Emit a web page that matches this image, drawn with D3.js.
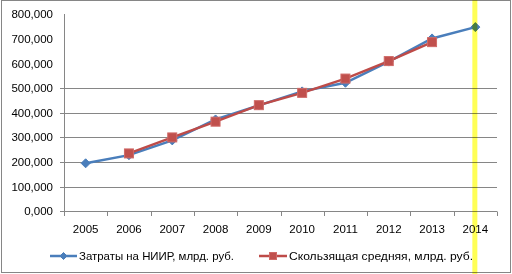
<!DOCTYPE html>
<html><head><meta charset="utf-8">
<script src="https://cdn.jsdelivr.net/npm/d3@7"></script>
<style>body{margin:0;background:#fff}svg{display:block}</style>
</head><body>
<script>
const years = ["2005","2006","2007","2008","2009","2010","2011","2012","2013","2014"];
const costs = [195, 228, 288, 373, 430, 487, 522, 608, 702, 748];
const movingAvgYears = ["2006","2007","2008","2009","2010","2011","2012","2013"];
const movingAvg = [235, 300, 364, 431, 481, 539, 610, 687];
const yTickValues = [0,100,200,300,400,500,600,700,800];
const gridValues = [100,200,300,400,500];
const seriesNames = ["Затраты на НИИР, млрд. руб.", "Скользящая средняя, млрд. руб."];
const highlightYear = "2014";

const W = 512, H = 274;
const svg = d3.select("body").append("svg").attr("width", W).attr("height", H);
const font = "Liberation Sans, Arial, sans-serif";

svg.append("rect").attr("x",1.5).attr("y",0.5).attr("width",509).attr("height",272)
  .attr("fill","#fff").attr("stroke","#868686").attr("stroke-width",1);

const x = d3.scaleBand().domain(years).range([64, 497]).padding(0);
const y = d3.scaleLinear().domain([0, 800]).range([211.3, 14.3]);
const cx = d => x(d) + x.bandwidth()/2;
const fmt = d3.formatLocale({decimal:",", thousands:" ", grouping:[3], currency:["",""]}).format(".3f");

const gridColor = "#868686";
svg.append("g").selectAll("line").data(gridValues).join("line")
  .attr("x1",64).attr("x2",497)
  .attr("y1",d=>Math.round(y(d))+0.5).attr("y2",d=>Math.round(y(d))+0.5)
  .attr("stroke",gridColor).attr("stroke-width",1);

svg.append("line").attr("x1",64.5).attr("x2",64.5).attr("y1",Math.round(y(800))).attr("y2",Math.round(y(0))+0.5)
  .attr("stroke",gridColor);
svg.append("g").selectAll("line").data(gridValues.concat([0])).join("line")
  .attr("x1",60).attr("x2",64.5)
  .attr("y1",d=>Math.round(y(d))+0.5).attr("y2",d=>Math.round(y(d))+0.5)
  .attr("stroke",gridColor);
svg.append("g").selectAll("text").data(yTickValues).join("text")
  .attr("x",53).attr("y",d=>y(d)).attr("dy","0.35em")
  .attr("text-anchor","end").attr("font-family",font).attr("font-size","11.5px").attr("fill","#000")
  .text(d=>fmt(d));

svg.append("line").attr("x1",64).attr("x2",497).attr("y1",Math.round(y(0))+0.5).attr("y2",Math.round(y(0))+0.5)
  .attr("stroke",gridColor);
const boundaries = years.map(d=>x(d)).concat([x(years[years.length-1])+x.bandwidth()]);
svg.append("g").selectAll("line").data(boundaries).join("line")
  .attr("x1",d=>Math.round(d)+0.5).attr("x2",d=>Math.round(d)+0.5)
  .attr("y1",Math.round(y(0))+0.5).attr("y2",Math.round(y(0))+5)
  .attr("stroke",gridColor);
svg.append("g").selectAll("text").data(years).join("text")
  .attr("x",d=>cx(d)).attr("y",228.5).attr("dy","0.35em")
  .attr("text-anchor","middle").attr("font-family",font).attr("font-size","11.5px").attr("fill","#000")
  .text(d=>d);

const blue = "#4a7ebb", red = "#be4b48";
const line = d3.line().x(d=>cx(d[0])).y(d=>y(d[1]));
const blueData = years.map((d,i)=>[d,costs[i]]);
const redData = movingAvgYears.map((d,i)=>[d,movingAvg[i]]);

const diamond = (g, px, py, s) => g.append("path")
  .attr("d", `M${px},${py-s}L${px+s},${py}L${px},${py+s}L${px-s},${py}Z`)
  .attr("fill",blue).attr("stroke",blue).attr("stroke-width",1);
const square = (g, px, py, s) => g.append("rect")
  .attr("x",px-s).attr("y",py-s).attr("width",2*s).attr("height",2*s)
  .attr("fill","#c0504d").attr("stroke","#d06a67").attr("stroke-width",1);

svg.append("path").datum(blueData).attr("d",line).attr("fill","none").attr("stroke",blue).attr("stroke-width",2.5);
const bm = svg.append("g");
blueData.forEach(d=>diamond(bm, cx(d[0]), y(d[1]), 4.5));
svg.append("path").datum(redData).attr("d",line).attr("fill","none").attr("stroke",red).attr("stroke-width",2.5);
const rm = svg.append("g");
redData.forEach(d=>square(rm, cx(d[0]), y(d[1]), 4.5));

svg.append("rect").attr("x",cx(highlightYear)-3).attr("y",0).attr("width",5).attr("height",H)
  .attr("fill","#ffff55").style("mix-blend-mode","multiply");

const lg = svg.append("g");
lg.append("line").attr("x1",50).attr("x2",77).attr("y1",256).attr("y2",256).attr("stroke",blue).attr("stroke-width",2.5);
diamond(lg, 63.5, 256, 3.5);
lg.append("text").attr("x",79).attr("y",256).attr("dy","0.35em").attr("font-family",font).attr("font-size","11.5px")
  .attr("textLength",155).attr("lengthAdjust","spacingAndGlyphs")
  .attr("fill","#000").text(seriesNames[0]);
lg.append("line").attr("x1",259).attr("x2",287).attr("y1",256).attr("y2",256).attr("stroke",red).attr("stroke-width",2.5);
square(lg, 273, 256, 3.5);
lg.append("text").attr("x",289).attr("y",256).attr("dy","0.35em").attr("font-family",font).attr("font-size","11.5px")
  .attr("textLength",184).attr("lengthAdjust","spacingAndGlyphs")
  .attr("fill","#000").text(seriesNames[1]);
</script>
</body></html>
